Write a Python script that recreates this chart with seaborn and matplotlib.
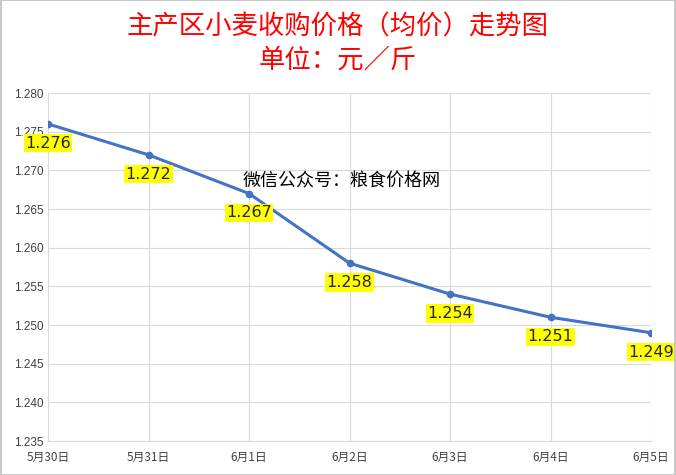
import matplotlib
matplotlib.use("Agg")
import matplotlib.pyplot as plt
import seaborn as sns
import pandas as pd

# data
dates = ["5月30日", "5月31日", "6月1日", "6月2日", "6月3日", "6月4日", "6月5日"]
prices = [1.276, 1.272, 1.267, 1.258, 1.254, 1.251, 1.249]
y_ticks = [1.235, 1.240, 1.245, 1.250, 1.255, 1.260, 1.265, 1.270, 1.275, 1.280]

sns.set_style("white")
plt.rcParams['font.family'] = ['Noto Sans CJK SC', 'DejaVu Sans']

df = pd.DataFrame({"date": dates, "price": prices})
df["x"] = range(len(df))

fig = plt.figure(figsize=(6.76, 4.75), dpi=100)
ax = fig.add_axes([48 / 676, 1 - 441 / 475, (651 - 48) / 676, (441 - 93) / 475])

sns.lineplot(data=df, x="x", y="price", ax=ax, color="#4472C4", linewidth=2.2,
             marker="o", markersize=5.5, markeredgewidth=0)

ax.set_xlim(0, len(dates) - 1)
ax.set_ylim(1.235, 1.280)
ax.set_xticks(df["x"])
ax.set_xticklabels(dates)
ax.set_yticks(y_ticks)
ax.set_yticklabels([f"{v:.3f}" for v in y_ticks], family=["Liberation Sans", "DejaVu Sans"])
ax.grid(True, color="#D9D9D9", linewidth=0.8)
ax.tick_params(axis="both", labelsize=8.5, colors="#404040", length=0)
ax.tick_params(axis="x", pad=7)
ax.tick_params(axis="y", pad=3)
ax.set_xlabel("")
ax.set_ylabel("")
for side in ["top", "right", "left"]:
    ax.spines[side].set_visible(False)
ax.spines["bottom"].set_color("#D9D9D9")

# yellow data labels below each point
for xi, v in zip(df["x"], df["price"]):
    ax.annotate(f"{v:.3f}", (xi, v), xytext=(0, -14), textcoords="offset points",
                ha="center", va="center", fontsize=11.5, color="#262626",
                family=["DejaVu Sans"],
                bbox=dict(boxstyle="square,pad=0.1", fc="#FFFF00", ec="none"),
                annotation_clip=False)

fig.text(0.5, 1 - 27 / 475, "主产区小麦收购价格（均价）走势图", ha="center", va="center",
         fontsize=19, color="#FF0000")
fig.text(0.5, 1 - 60 / 475, "单位：元／斤", ha="center", va="center",
         fontsize=19, color="#FF0000")
fig.text(342 / 676, 1 - 182 / 475, "微信公众号：粮食价格网", ha="center", va="center",
         fontsize=13, color="#000000")

# grey outer border
fig.patches.append(plt.Rectangle((0.001, 0.001), 0.998, 0.998, transform=fig.transFigure,
                                 fill=False, edgecolor="#BFBFBF", linewidth=1.2))

fig.savefig("out.png", dpi=100)
